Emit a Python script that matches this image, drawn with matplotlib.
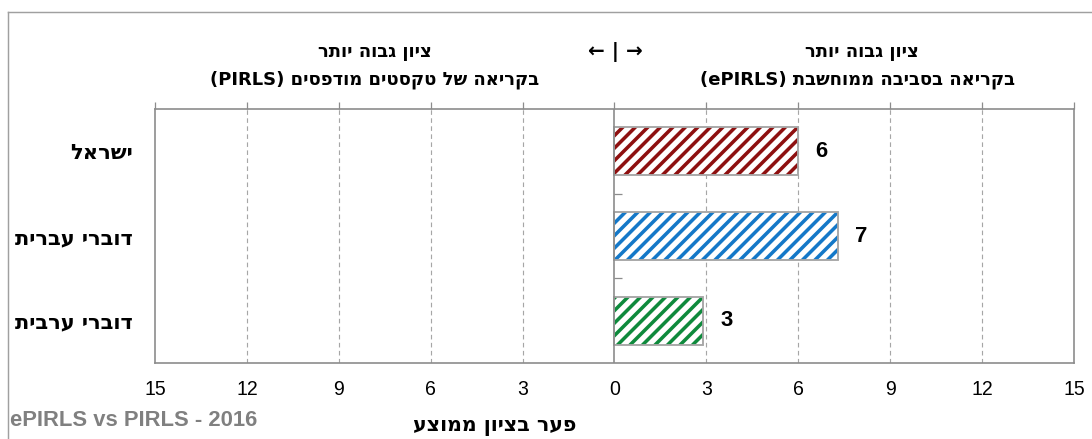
import matplotlib
matplotlib.use('Agg')
import matplotlib.pyplot as plt
from matplotlib.ticker import FuncFormatter
from matplotlib.lines import Line2D

# data
categories = ['ישראל', 'דוברי עברית', 'דוברי ערבית']
values = [6.0, 7.3, 2.9]
value_labels = ['6', '7', '3']
hatch_colors = ['#8E1010', '#1478C8', '#0E8A3C']
x_ticks = [-15, -12, -9, -6, -3, 0, 3, 6, 9, 12, 15]

left_head = ('ציון גבוה יותר', 'בקריאה של טקסטים מודפסים', '(PIRLS)')
right_head = ('ציון גבוה יותר', 'בקריאה בסביבה ממוחשבת', '(ePIRLS)')
x_title = 'פער בציון ממוצע'
source_note = 'ePIRLS vs PIRLS - 2016'

plt.rcParams['font.family'] = ['Liberation Sans', 'DejaVu Sans']
plt.rcParams['hatch.linewidth'] = 3.4

DPI = 75
W, H = 1092, 439
HEB = ['DejaVu Sans']


def rtl(s):
    # matplotlib has no bidi support, so hebrew goes in visual order
    return s[::-1]


def pt(px):
    return px * 72 / DPI


def fx(px):
    return px / W


def fy(px):
    return 1 - px / H


fig = plt.figure(figsize=(W / DPI, H / DPI), dpi=DPI)
ax = fig.add_axes([fx(155), fy(363), fx(1074) - fx(155), fy(109) - fy(363)])

ypos = list(range(len(categories)))
# hatch first (edge colour = stripe colour), then the gray outline on top
ax.barh(ypos, values, height=0.57, color='white', edgecolor=hatch_colors,
        hatch='//', linewidth=0, zorder=3)
ax.barh(ypos, values, height=0.57, fill=False, edgecolor='#A6A6A6',
        linewidth=1.8, zorder=4)

for y, v, lab in zip(ypos, values, value_labels):
    ax.annotate(lab, (v, y), xytext=(pt(17), 0), textcoords='offset points',
                ha='left', va='center', fontsize=pt(22), fontweight='bold')

ax.set_xlim(-15, 15)
ax.set_ylim(2.5, -0.5)
ax.set_xticks(x_ticks)
ax.xaxis.set_major_formatter(FuncFormatter(lambda v, p: f'{abs(v):g}'))
ax.tick_params(axis='x', bottom=False, top=True, labelbottom=True, labeltop=False,
               direction='out', length=pt(7), width=1.2, color='#8C8C8C',
               labelsize=pt(19.5), pad=pt(10))

ax.set_yticks(ypos)
ax.set_yticklabels([rtl(c) for c in categories], fontsize=pt(21),
                   fontweight='bold', family=HEB)
ax.tick_params(axis='y', length=0, pad=pt(22))

for xv in x_ticks[1:-1]:
    if xv != 0:
        ax.axvline(xv, color='#A6A6A6', linewidth=1.1, linestyle=(0, (4, 3)), zorder=1)
ax.axvline(0, color='#8C8C8C', linewidth=1.6, zorder=5)
ax.hlines([0.5, 1.5], 0, 0.25, color='#8C8C8C', linewidth=1.2, zorder=5)

for s in ax.spines.values():
    s.set_color('#8C8C8C')
    s.set_linewidth(1.6)

# header texts above the plot
head_kw = dict(ha='center', va='center', fontsize=pt(18), fontweight='bold', family=HEB)
fig.text(fx(375), fy(52), rtl(left_head[0]), **head_kw)
fig.text(fx(375), fy(80), left_head[2] + ' ' + rtl(left_head[1]), **head_kw)
fig.text(fx(862), fy(52), rtl(right_head[0]), **head_kw)
fig.text(fx(858), fy(80), right_head[2] + ' ' + rtl(right_head[1]), **head_kw)
fig.text(fx(615), fy(52), '← | →', ha='center', va='center',
         fontsize=pt(20), fontweight='bold', family=HEB)

fig.text(fx(495), fy(426), rtl(x_title), ha='center', va='center',
         fontsize=pt(20.5), fontweight='bold', family=HEB)
fig.text(fx(10), fy(421), source_note, ha='left', va='center',
         fontsize=pt(22), fontweight='bold', color='#808080')

# outer chart border, partly cut off by the crop
fig.add_artist(Line2D([fx(8), 1], [fy(12), fy(12)], color='#A0A0A0', linewidth=1.4))
fig.add_artist(Line2D([fx(8), fx(8)], [fy(12), 0], color='#A0A0A0', linewidth=1.4))

fig.savefig('out.png', dpi=DPI)
